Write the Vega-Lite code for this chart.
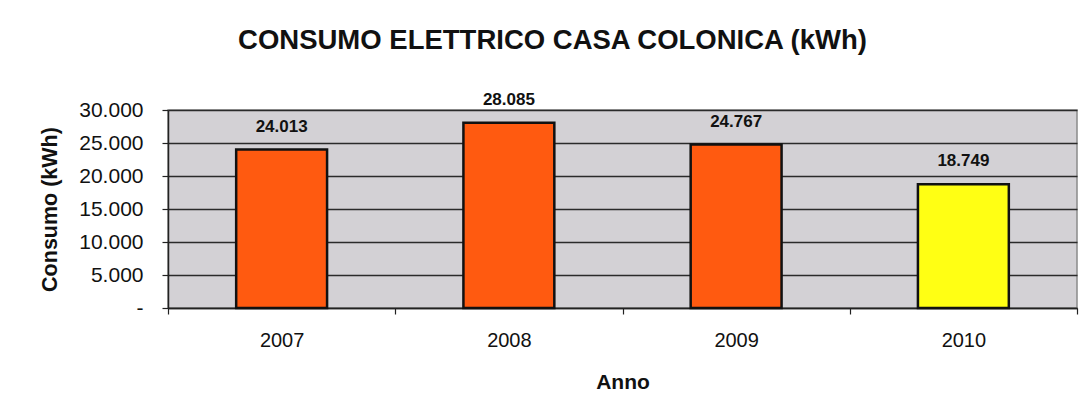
{
  "$schema": "https://vega.github.io/schema/vega-lite/v6.json",
  "autosize": {"type": "none"},
  "width": 909,
  "height": 198,
  "padding": {"left": 168, "top": 110, "right": 11, "bottom": 111},
  "background": "#ffffff",
  "title": {
    "text": "CONSUMO ELETTRICO CASA COLONICA (kWh)",
    "anchor": "middle",
    "frame": "group",
    "dx": -70,
    "offset": 36,
    "font": "Liberation Sans",
    "fontSize": 27.5,
    "fontWeight": "bold",
    "color": "#111111"
  },
  "config": {
    "locale": {
      "number": {"decimal": ",", "thousands": ".", "grouping": [3], "currency": ["€", ""]}
    },
    "view": {"fill": "#d3d1d5", "stroke": "#8a8a8a", "strokeWidth": 1.5},
    "font": "Liberation Sans"
  },
  "data": {
    "values": [
      {"Anno": "2007", "Consumo": 24013},
      {"Anno": "2008", "Consumo": 28085},
      {"Anno": "2009", "Consumo": 24767},
      {"Anno": "2010", "Consumo": 18749}
    ]
  },
  "encoding": {
    "x": {
      "field": "Anno",
      "type": "ordinal",
      "scale": {"paddingInner": 0, "paddingOuter": 0},
      "axis": {
        "title": "Anno",
        "titleFontSize": 21,
        "titleFontWeight": "bold",
        "titleColor": "#111111",
        "titlePadding": 21,
        "labelAngle": 0,
        "labelFontSize": 20,
        "labelColor": "#111111",
        "labelPadding": 16,
        "tickBand": "extent",
        "tickSize": 6,
        "tickColor": "#222222",
        "tickWidth": 1.2,
        "domainColor": "#222222",
        "domainWidth": 1.5,
        "grid": false
      }
    },
    "y": {
      "field": "Consumo",
      "type": "quantitative",
      "scale": {"domain": [0, 30000], "nice": false},
      "axis": {
        "title": "Consumo (kWh)",
        "titleFontSize": 21.5,
        "titleFontWeight": "bold",
        "titleColor": "#111111",
        "titlePadding": 17,
        "values": [0, 5000, 10000, 15000, 20000, 25000, 30000],
        "format": ",d",
        "labelExpr": "datum.value === 0 ? '-' : datum.label",
        "labelFontSize": 21,
        "labelColor": "#111111",
        "labelPadding": 19,
        "tickSize": 6,
        "tickColor": "#222222",
        "tickWidth": 1.2,
        "domainColor": "#222222",
        "domainWidth": 1.5,
        "grid": true,
        "gridColor": "#2a2a2a",
        "gridWidth": 1.3
      }
    }
  },
  "layer": [
    {
      "mark": {"type": "bar", "width": {"band": 0.4}, "stroke": "#111111", "strokeWidth": 2.5},
      "encoding": {
        "color": {
          "field": "Anno",
          "type": "nominal",
          "scale": {
            "domain": ["2007", "2008", "2009", "2010"],
            "range": ["#ff5a10", "#ff5a10", "#ff5a10", "#ffff14"]
          },
          "legend": null
        }
      }
    },
    {
      "mark": {
        "type": "text",
        "baseline": "bottom",
        "dy": -14,
        "fontSize": 17,
        "fontWeight": "bold",
        "color": "#111111"
      },
      "encoding": {
        "text": {"field": "Consumo", "type": "quantitative", "format": ",d"}
      }
    }
  ]
}
